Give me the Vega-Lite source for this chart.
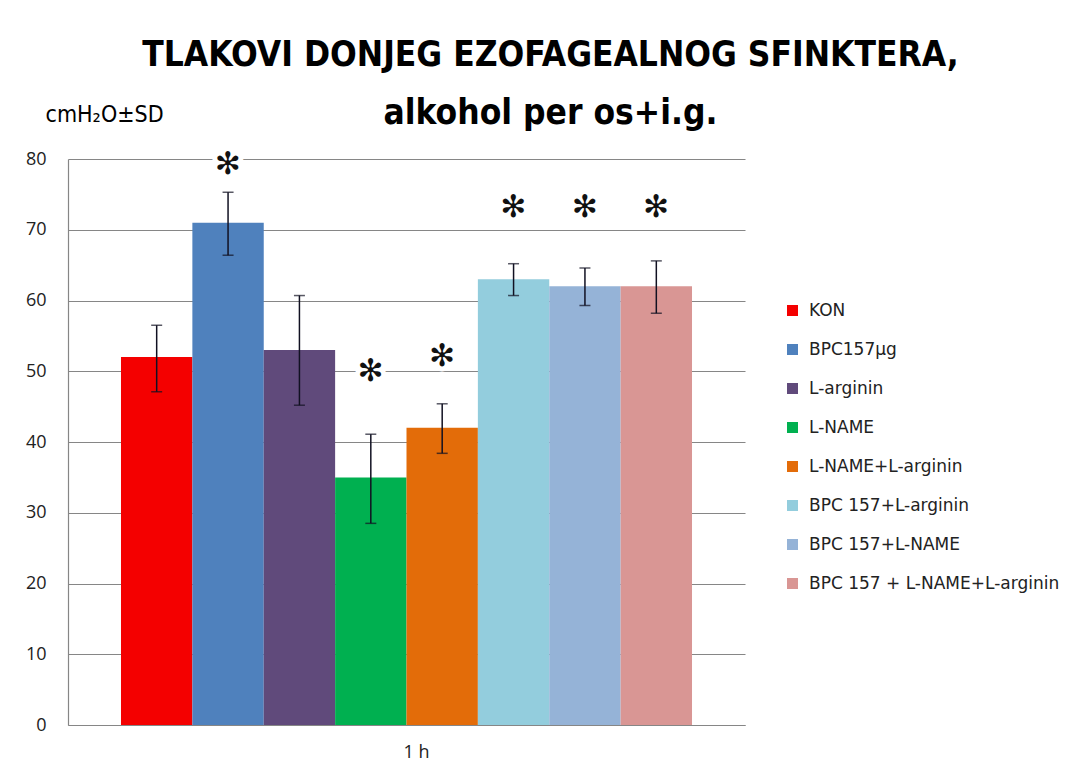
{
  "$schema": "https://vega.github.io/schema/vega-lite/v6.json",
  "width": 677,
  "height": 566,
  "autosize": {"type": "none"},
  "padding": {"left": 68, "top": 159, "right": 340, "bottom": 53},
  "background": "white",
  "config": {
    "view": {"stroke": null},
    "axisY": {
      "titleAngle": 0,
      "titleAlign": "left",
      "titleBaseline": "alphabetic",
      "titleX": -23,
      "titleY": -38,
      "titleFont": "Liberation Sans Narrow, DejaVu Sans Condensed, sans-serif",
      "titleFontSize": 23,
      "titleFontWeight": "normal",
      "titleColor": "#000000",
      "labelFont": "Open Sans",
      "labelFontSize": 18,
      "labelColor": "#222222",
      "labelPadding": 22,
      "ticks": false,
      "grid": true,
      "gridColor": "#868686",
      "gridWidth": 1.2,
      "domain": true,
      "domainColor": "#868686",
      "domainWidth": 1.2,
      "tickCount": 8
    }
  },
  "title": {
    "text": ["TLAKOVI DONJEG EZOFAGEALNOG SFINKTERA,", "alkohol per os+i.g."],
    "anchor": "middle",
    "frame": "group",
    "dx": 144,
    "dy": 87,
    "font": "Liberation Sans Narrow, DejaVu Sans Condensed, sans-serif",
    "fontSize": 35,
    "fontWeight": "bold",
    "color": "#000000",
    "lineHeight": 58,
    "baseline": "alphabetic",
    "offset": 31
  },
  "data": {
    "values": [
      {"time": "1 h", "group": "KON", "mean": 52, "lo": 47.1, "hi": 56.5, "star": null},
      {"time": "1 h", "group": "BPC157µg", "mean": 71, "lo": 66.4, "hi": 75.3, "star": 79.2},
      {"time": "1 h", "group": "L-arginin", "mean": 53, "lo": 45.2, "hi": 60.7, "star": null},
      {"time": "1 h", "group": "L-NAME", "mean": 35, "lo": 28.5, "hi": 41.1, "star": 49.9},
      {"time": "1 h", "group": "L-NAME+L-arginin", "mean": 42, "lo": 38.4, "hi": 45.4, "star": 52.0},
      {"time": "1 h", "group": "BPC 157+L-arginin", "mean": 63, "lo": 60.7, "hi": 65.2, "star": 73.1},
      {"time": "1 h", "group": "BPC 157+L-NAME", "mean": 62, "lo": 59.3, "hi": 64.6, "star": 73.1},
      {"time": "1 h", "group": "BPC 157 + L-NAME+L-arginin", "mean": 62, "lo": 58.2, "hi": 65.6, "star": 73.1}
    ]
  },
  "encoding": {
    "x": {
      "field": "time",
      "type": "nominal",
      "scale": {"paddingInner": 0, "paddingOuter": 0.0928},
      "axis": {
        "title": null,
        "labelAngle": 0,
        "labelFont": "Open Sans",
        "labelFontSize": 18,
        "labelColor": "#222222",
        "labelPadding": 18,
        "labelOffset": 10,
        "ticks": false,
        "domain": true,
        "domainColor": "#868686",
        "domainWidth": 1.2
      }
    },
    "xOffset": {
      "field": "group",
      "type": "nominal",
      "sort": ["KON", "BPC157µg", "L-arginin", "L-NAME", "L-NAME+L-arginin", "BPC 157+L-arginin", "BPC 157+L-NAME", "BPC 157 + L-NAME+L-arginin"],
      "scale": {"paddingInner": 0, "paddingOuter": 0}
    }
  },
  "layer": [
    {
      "mark": {"type": "bar"},
      "encoding": {
        "y": {
          "field": "mean",
          "type": "quantitative",
          "scale": {"domain": [0, 80], "nice": false},
          "title": "cmH₂O±SD"
        },
        "color": {
          "field": "group",
          "type": "nominal",
          "scale": {
            "domain": ["KON", "BPC157µg", "L-arginin", "L-NAME", "L-NAME+L-arginin", "BPC 157+L-arginin", "BPC 157+L-NAME", "BPC 157 + L-NAME+L-arginin"],
            "range": ["#F40000", "#4F81BD", "#604A7B", "#00B050", "#E36C09", "#93CDDD", "#95B3D7", "#D99694"]
          },
          "legend": {
            "title": null,
            "orient": "none",
            "legendX": 716,
            "legendY": 143,
            "padding": 0,
            "symbolType": "square",
            "symbolSize": 121,
            "symbolStrokeWidth": 0,
            "labelFont": "DejaVu Sans",
            "labelFontSize": 17,
            "labelColor": "#222222",
            "labelOffset": 8,
            "labelLimit": 0,
            "rowPadding": 21
          }
        }
      }
    },
    {
      "mark": {"type": "rule", "color": "#111122", "strokeWidth": 1.5},
      "encoding": {
        "y": {"field": "lo", "type": "quantitative", "title": "cmH₂O±SD"},
        "y2": {"field": "hi"}
      }
    },
    {
      "mark": {"type": "tick", "color": "#111122", "size": 11, "thickness": 1.5, "orient": "horizontal"},
      "encoding": {
        "y": {"field": "hi", "type": "quantitative", "title": "cmH₂O±SD"}
      }
    },
    {
      "mark": {"type": "tick", "color": "#111122", "size": 11, "thickness": 1.5, "orient": "horizontal"},
      "encoding": {
        "y": {"field": "lo", "type": "quantitative", "title": "cmH₂O±SD"}
      }
    },
    {
      "transform": [{"filter": "datum.star != null"}],
      "mark": {"type": "text", "text": "✻", "font": "DejaVu Sans", "fontSize": 31, "baseline": "middle", "align": "center", "color": "white", "stroke": "white", "strokeWidth": 10},
      "encoding": {
        "y": {"field": "star", "type": "quantitative", "title": "cmH₂O±SD"}
      }
    },
    {
      "transform": [{"filter": "datum.star != null"}],
      "mark": {"type": "text", "text": "✻", "font": "DejaVu Sans", "fontSize": 31, "baseline": "middle", "align": "center", "color": "#111111"},
      "encoding": {
        "y": {"field": "star", "type": "quantitative", "title": "cmH₂O±SD"}
      }
    }
  ]
}
